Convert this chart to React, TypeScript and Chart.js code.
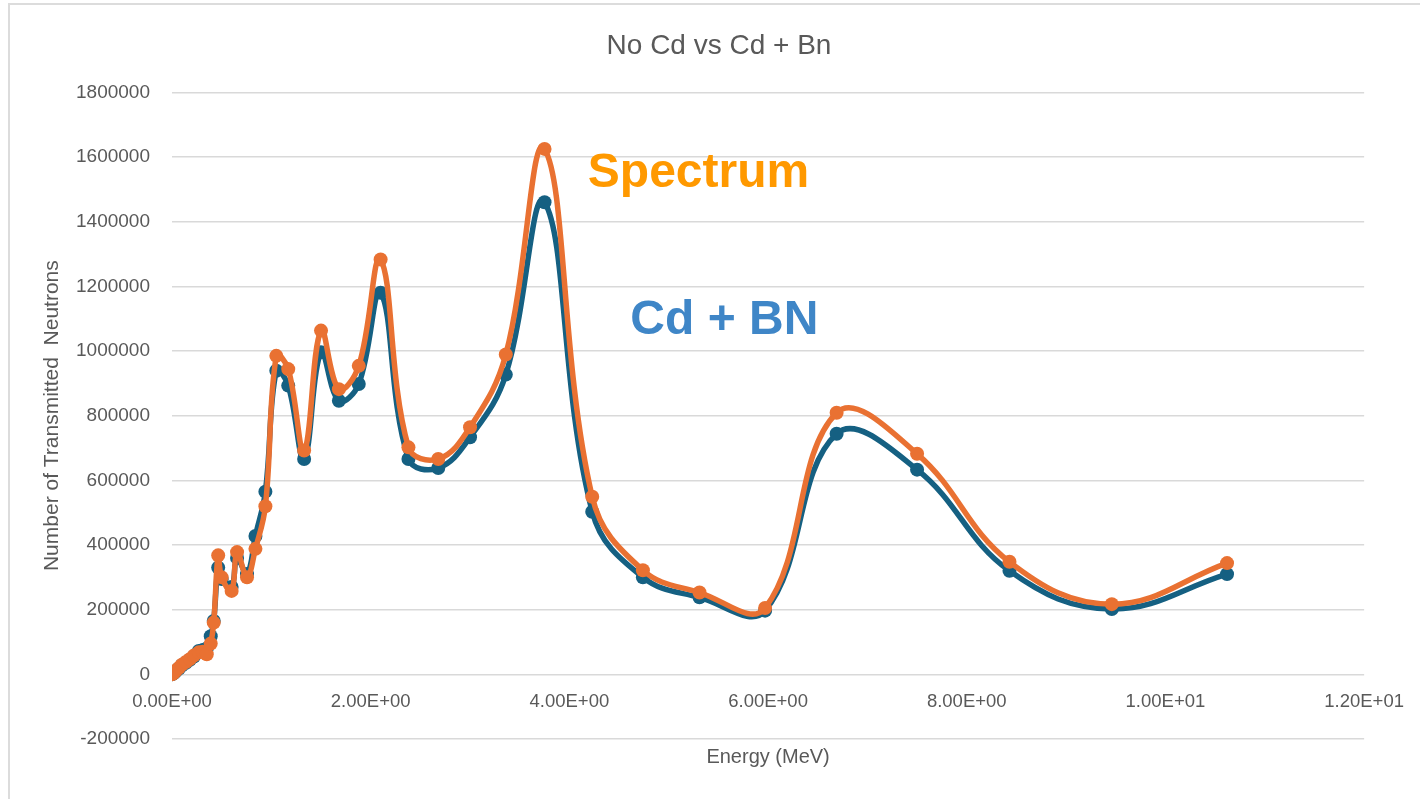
import React, { useEffect, useRef } from "react";
import { Chart, registerables } from "chart.js";

Chart.register(...registerables);

// ---- data ----
const energyMeV = [
  0, 0.02, 0.04, 0.07, 0.1, 0.14, 0.18, 0.22, 0.27, 0.31, 0.35, 0.39, 0.42, 0.465, 0.5, 0.6, 0.655, 0.755, 0.84, 0.94,
  1.05, 1.17, 1.33, 1.5, 1.68, 1.88, 2.1, 2.38, 2.68, 3.0, 3.36, 3.75, 4.23, 4.74, 5.31, 5.97, 6.69, 7.5, 8.43, 9.46, 10.62,
];
const spectrumCounts = [
  0, 5000, 12000, 20000, 30000, 38000, 47000, 58000, 68000, 70000, 62000, 95000, 160000, 368000, 300000, 258000, 378000, 300000, 388000, 520000,
  985000, 944000, 692000, 1063000, 882000, 954000, 1283000, 702000, 666000, 764000, 989000, 1625000, 549000, 322000, 253000, 205000, 809000, 682000, 348000, 217000, 344000,
];
const cdBnCounts = [
  0, 4000, 10000, 18000, 28000, 36000, 45000, 55000, 72000, 75000, 80000, 118000, 165000, 330000, 295000, 270000, 360000, 310000, 428000, 565000,
  939000, 893000, 666000, 996000, 846000, 898000, 1180000, 666000, 638000, 733000, 927000, 1460000, 503000, 300000, 238000, 197000, 744000, 633000, 320000, 202000, 310000,
];
const seriesNames = ["Spectrum", "Cd + BN"];
const chartTitle = "No Cd vs Cd + Bn";
const xTitle = "Energy (MeV)";
const yTitle = "Number of Transmitted  Neutrons";
// in-plot labels anchored at data coordinates (energy, counts)
const labelTexts = ["Spectrum", "Cd + BN"];
const labelAnchorsX = [5.3, 5.56];
const labelAnchorsY = [1506000, 1054000];

const ORANGE = "#E97132";
const BLUE = "#156082";
const GREY = "#595959";
const FONT = "'Liberation Sans', Arial, sans-serif";

const fmtExp = (v: number) => {
  const [m, e] = Number(v).toExponential(2).split("e");
  const n = parseInt(e, 10);
  return `${m}E${n < 0 ? "-" : "+"}${String(Math.abs(n)).padStart(2, "0")}`;
};

const textLabelsPlugin = {
  id: "textLabels",
  afterDatasetsDraw(chart: any) {
    const { ctx, scales } = chart;
    const colors = ["#FF9900", "#3F86C7"];
    ctx.save();
    ctx.font = `bold 48px ${FONT}`;
    ctx.textAlign = "center";
    ctx.textBaseline = "alphabetic";
    labelTexts.forEach((t, i) => {
      ctx.fillStyle = colors[i];
      ctx.fillText(t, scales.x.getPixelForValue(labelAnchorsX[i]), scales.y.getPixelForValue(labelAnchorsY[i]));
    });
    ctx.restore();
  },
};

export default function App() {
  const ref = useRef<HTMLCanvasElement | null>(null);
  useEffect(() => {
    if (!ref.current) return;
    Chart.defaults.font.family = FONT;
    Chart.defaults.color = GREY;
    const mk = (vals: number[]) => energyMeV.map((x, i) => ({ x, y: vals[i] }));
    const common = {
      pointBorderWidth: 0,
      pointRadius: 7,
      pointHoverRadius: 7,
      borderWidth: 5.5,
      tension: 0.4,
    };
    const chart = new Chart(ref.current, {
      type: "line",
      data: {
        datasets: [
          {
            ...common,
            label: seriesNames[0],
            data: mk(spectrumCounts),
            borderColor: ORANGE,
            backgroundColor: ORANGE,
            pointBackgroundColor: ORANGE,
            order: 0,
          },
          {
            ...common,
            label: seriesNames[1],
            data: mk(cdBnCounts),
            borderColor: BLUE,
            backgroundColor: BLUE,
            pointBackgroundColor: BLUE,
            order: 1,
          },
        ],
      },
      options: {
        animation: false,
        responsive: false,
        devicePixelRatio: 1,
        layout: { padding: { left: 18, right: 0, top: 0, bottom: 0 } },
        plugins: {
          legend: { display: false },
          tooltip: { enabled: false },
          title: {
            display: true,
            text: chartTitle,
            color: GREY,
            font: { size: 28, weight: "normal" },
            padding: { top: 29, bottom: 29.7 },
          },
        },
        scales: {
          x: {
            type: "linear",
            position: { y: 0 } as any,
            min: 0,
            max: 12,
            ticks: { stepSize: 2, padding: 16, color: GREY, font: { size: 18.5 }, maxRotation: 0, callback: (v: any) => fmtExp(v) },
            grid: { display: false, drawTicks: false },
            border: { display: false },
            title: { display: false },
          },
          x2: {
            type: "linear",
            position: "bottom",
            display: true,
            min: 0,
            max: 12,
            ticks: { display: false },
            grid: { display: false, drawTicks: false },
            border: { display: false },
            title: { display: true, text: xTitle, color: GREY, font: { size: 20 }, padding: { top: 0, bottom: 30 } },
            afterFit: (s: any) => { s.height = 60; },
          },
          y: {
            type: "linear",
            position: "left",
            min: -200000,
            max: 1800000,
            ticks: { stepSize: 200000, padding: 22, color: GREY, font: { size: 19 }, callback: (v: any) => String(v) },
            grid: { color: "#d9d9d9", lineWidth: 1.5, drawTicks: false },
            border: { display: false },
            title: { display: true, text: yTitle, color: GREY, font: { size: 21 }, padding: { top: 21.4, bottom: 0 } },
            afterFit: (s: any) => { s.width = 154; },
          },
          y2: {
            type: "linear",
            position: "right",
            display: true,
            grid: { display: false, drawTicks: false },
            border: { display: false },
            ticks: { display: false },
            afterFit: (s: any) => { s.width = 51; },
          },
        },
      } as any,
      plugins: [textLabelsPlugin],
    });
    return () => chart.destroy();
  }, []);

  return (
    <div style={{ position: "fixed", left: 0, top: 0, width: 1420, height: 799, overflow: "hidden", background: "#fff" }}>
      <div
        style={{
          position: "absolute",
          left: 8,
          top: 3,
          width: 1440,
          height: 830,
          border: "2px solid #dcdcdc",
          boxSizing: "border-box",
        }}
      />
      <canvas ref={ref} width={1420} height={799} style={{ position: "absolute", left: 0, top: 0, width: 1420, height: 799 }} />
    </div>
  );
}
